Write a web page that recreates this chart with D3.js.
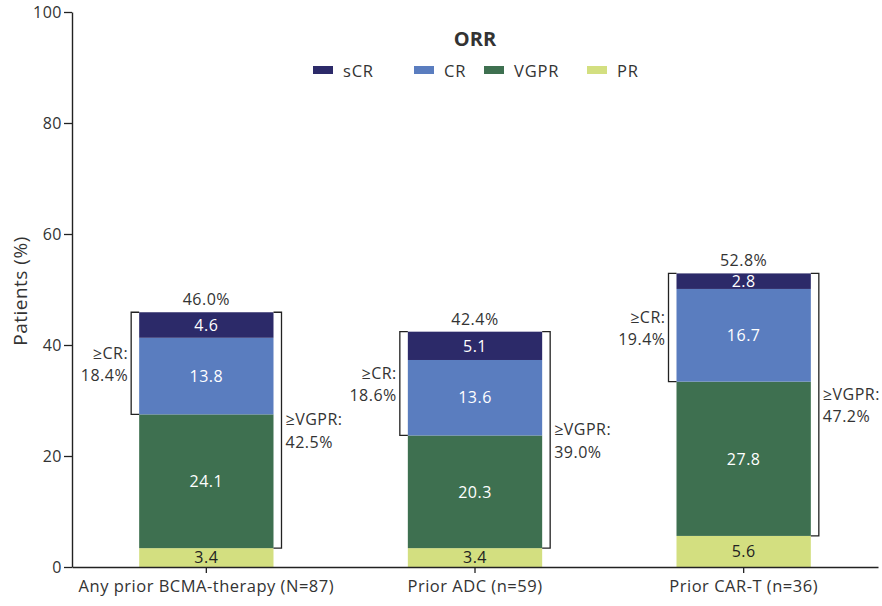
<!DOCTYPE html>
<html><head><meta charset="utf-8">
<script src="https://cdn.jsdelivr.net/npm/d3@7"></script>
<style>
body{margin:0;background:#fff;}
text{font-family:"Open Sans",sans-serif;fill:#333;}
</style></head>
<body><svg id="chart" width="882" height="606"></svg>
<script>
const categories = ["Any prior BCMA-therapy (N=87)", "Prior ADC (n=59)", "Prior CAR-T (n=36)"];
const seriesNames = ["PR", "VGPR", "CR", "sCR"];
const PR = [3.4, 3.4, 5.6];
const VGPR = [24.1, 20.3, 27.8];
const CR = [13.8, 13.6, 16.7];
const sCR = [4.6, 5.1, 2.8];
const totals = ["46.0%", "42.4%", "52.8%"];
const geCR = ["18.4%", "18.6%", "19.4%"];
const geVGPR = ["42.5%", "39.0%", "47.2%"];
const yTicks = [0, 20, 40, 60, 80, 100];
const legendOrder = ["sCR", "CR", "VGPR", "PR"];
const colors = {sCR: "#2c2a69", CR: "#5a7dbf", VGPR: "#3e7050", PR: "#d3df80"};
const labelColors = {sCR: "#ffffff", CR: "#ffffff", VGPR: "#ffffff", PR: "#222222"};

const FS = "16px", LS = "0.5px";
const svg = d3.select("#chart");
const x = d3.scaleBand().domain(categories).range([72, 878]).paddingInner(0.5).paddingOuter(0.25);
const y = d3.scaleLinear().domain([0, 100]).range([567, 12]);

const rows = categories.map((c, i) => ({cat: c, PR: PR[i], VGPR: VGPR[i], CR: CR[i], sCR: sCR[i]}));
const stacked = d3.stack().keys(seriesNames)(rows);

const g = svg.append("g");
stacked.forEach(layer => {
  g.selectAll(null).data(layer).enter().append("rect")
    .attr("x", d => x(d.data.cat))
    .attr("width", x.bandwidth())
    .attr("y", d => y(d[1]))
    .attr("height", d => y(d[0]) - y(d[1]))
    .attr("fill", colors[layer.key]);
  g.selectAll(null).data(layer).enter().append("text")
    .attr("x", d => x(d.data.cat) + x.bandwidth() / 2)
    .attr("y", d => (y(d[0]) + y(d[1])) / 2)
    .attr("dy", "0.36em")
    .attr("text-anchor", "middle")
    .style("font-size", FS).style("letter-spacing", LS)
    .style("fill", labelColors[layer.key])
    .text(d => (d[1] - d[0]).toFixed(1));
});

rows.forEach((r, i) => {
  const x0 = x(r.cat), x1 = x0 + x.bandwidth();
  const top = y(r.PR + r.VGPR + r.CR + r.sCR);
  const crBot = y(r.PR + r.VGPR);
  const vgBot = y(r.PR);
  svg.append("path")
    .attr("d", `M${x0},${top}H${x0 - 8}V${crBot}H${x0}`)
    .attr("fill", "none").attr("stroke", "#222").attr("stroke-width", 1.3);
  svg.append("path")
    .attr("d", `M${x1},${top}H${x1 + 8}V${vgBot}H${x1}`)
    .attr("fill", "none").attr("stroke", "#222").attr("stroke-width", 1.3);
  svg.append("text").attr("x", (x0 + x1) / 2).attr("y", top - 7)
    .attr("text-anchor", "middle").style("font-size", FS).style("letter-spacing", LS).text(totals[i]);
  const cm = (top + crBot) / 2;
  const t1 = svg.append("text").attr("x", x0 - 11).attr("y", cm).attr("text-anchor", "end")
    .style("font-size", FS).style("letter-spacing", LS);
  t1.append("tspan").attr("x", x0 - 11).attr("dy", "-0.3em").text("≥CR:");
  t1.append("tspan").attr("x", x0 - 11).attr("dy", "1.4em").text(geCR[i]);
  const vm = (top + vgBot) / 2;
  const t2 = svg.append("text").attr("x", x1 + 12).attr("y", vm).style("font-size", FS).style("letter-spacing", LS);
  t2.append("tspan").attr("x", x1 + 12).attr("dy", "-0.3em").text("≥VGPR:");
  t2.append("tspan").attr("x", x1 + 12).attr("dy", "1.4em").text(geVGPR[i]);
});

const yAxis = svg.append("g").attr("transform", "translate(72,0)")
  .call(d3.axisLeft(y).tickValues(yTicks).tickSize(8).tickSizeOuter(0).tickPadding(2));
yAxis.select(".domain").attr("stroke", "#222").attr("stroke-width", 1.4);
yAxis.selectAll(".tick line").attr("stroke", "#222").attr("stroke-width", 1.3);
yAxis.selectAll(".tick text").style("font-size", "16px").style("letter-spacing", LS)
  .style("font-family", "Open Sans, sans-serif").attr("fill", "#333");

const xAxis = svg.append("g").attr("transform", "translate(0,567)")
  .call(d3.axisBottom(x).tickSize(6).tickSizeOuter(0).tickPadding(7));
xAxis.select(".domain").attr("stroke", "#222").attr("stroke-width", 1.4);
xAxis.selectAll(".tick line").attr("stroke", "#222").attr("stroke-width", 1.3);
xAxis.selectAll(".tick text").style("font-size", "16.5px").style("letter-spacing", LS)
  .style("font-family", "Open Sans, sans-serif").attr("fill", "#333");

svg.append("text").attr("transform", "translate(20,291) rotate(-90)")
  .attr("text-anchor", "middle").attr("dy", "0.35em").style("font-size", "19px").style("letter-spacing", LS).text("Patients (%)");

svg.append("text").attr("x", 475).attr("y", 46).attr("text-anchor", "middle")
  .style("font-size", "20px").style("font-weight", "bold").text("ORR");
const legX = {sCR: 313, CR: 414, VGPR: 484, PR: 587};
legendOrder.forEach(k => {
  svg.append("rect").attr("x", legX[k]).attr("y", 66).attr("width", 20).attr("height", 8).attr("fill", colors[k]);
  svg.append("text").attr("x", legX[k] + 30).attr("y", 71).attr("dy", "0.36em")
    .style("font-size", "16.5px").style("letter-spacing", "0.8px").text(k);
});
</script></body></html>
